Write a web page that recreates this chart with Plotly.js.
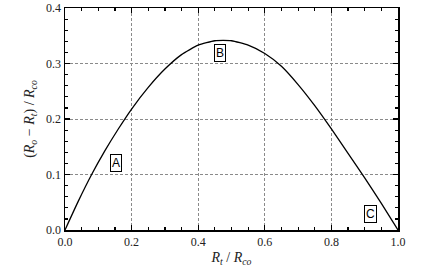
<!DOCTYPE html>
<html><head><meta charset="utf-8">
<script src="https://cdn.plot.ly/plotly-3.0.1.min.js"></script>
<style>html,body{margin:0;padding:0;background:#fff}</style>
</head><body><div id="chart" style="width:427px;height:272px"></div>
<script>
const xRatio = [0, 0.04, 0.08, 0.12, 0.16, 0.2, 0.25, 0.3, 0.35, 0.4, 0.45, 0.5, 0.55, 0.6, 0.65, 0.7, 0.75, 0.8, 0.85, 0.9, 0.95, 1.0];
const yValue = [0, 0.052, 0.1, 0.143, 0.182, 0.218, 0.257, 0.29, 0.316, 0.333, 0.341, 0.341, 0.333, 0.318, 0.295, 0.262, 0.224, 0.182, 0.138, 0.094, 0.048, 0];
const labelText = ['A', 'B', 'C'];
const labelX = [0.153, 0.465, 0.917];
const labelY = [0.121, 0.319, 0.029];

const serif = 'Liberation Serif';
const axisCommon = {
  showline: true, linecolor: '#000', linewidth: 1.5, mirror: 'ticks',
  ticks: 'inside', ticklen: 5, tickwidth: 1.2, tickcolor: '#000',
  showgrid: true, gridcolor: '#8a8a8a', griddash: '3px,2px', gridwidth: 1,
  zeroline: false, tickformat: '.1f',
  tickfont: {family: serif, size: 12, color: '#222'}
};
const layout = {
  width: 427, height: 272,
  margin: {l: 65, r: 29, t: 8, b: 42},
  paper_bgcolor: '#fff', plot_bgcolor: '#fff',
  showlegend: false,
  xaxis: Object.assign({}, axisCommon, {
    range: [0, 1], dtick: 0.2,
    minor: {dtick: 0.05, ticks: 'inside', ticklen: 3, tickwidth: 1.2, tickcolor: '#000', showgrid: false},
    title: {text: '<i>R<sub>t</sub></i> / <i>R<sub>co</sub></i>', font: {family: serif, size: 14, color: '#222'}, standoff: 4}
  }),
  yaxis: Object.assign({}, axisCommon, {
    range: [0, 0.4], dtick: 0.1,
    minor: {dtick: 0.02, ticks: 'inside', ticklen: 3, tickwidth: 1.2, tickcolor: '#000', showgrid: false},
    title: {text: '(<i>R<sub>o</sub></i> − <i>R<sub>t</sub></i>) / <i>R<sub>co</sub></i>', font: {family: serif, size: 14, color: '#222'}, standoff: 8}
  }),
  annotations: labelText.map((t, i) => ({
    x: labelX[i], y: labelY[i], xref: 'x', yref: 'y', text: t, showarrow: false,
    font: {family: 'Liberation Sans', size: 12, color: '#000'},
    bordercolor: '#000', borderwidth: 1, borderpad: 1, bgcolor: '#fff'
  }))
};
Plotly.newPlot('chart', [{
  x: xRatio, y: yValue, type: 'scatter', mode: 'lines',
  line: {color: '#000', width: 1.3, shape: 'spline', smoothing: 0.5}
}], layout, {staticPlot: true, displayModeBar: false});
</script></body></html>
